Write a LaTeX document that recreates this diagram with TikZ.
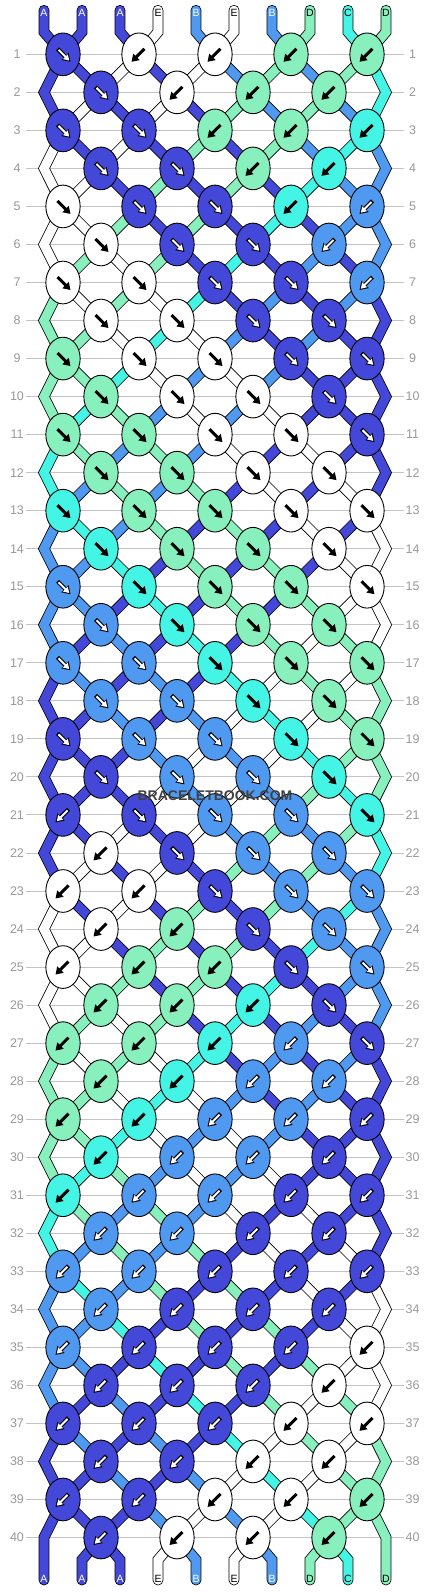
\documentclass[tikz,border=0pt]{standalone}
\usepackage{fontspec}
\setmainfont{Liberation Sans}
\usetikzlibrary{arrows.meta}
\usetikzlibrary{shapes.geometric}
\usetikzlibrary{backgrounds}

\definecolor{strA}{HTML}{4448D8}
\definecolor{strB}{HTML}{4F9AF0}
\definecolor{strC}{HTML}{44F5E5}
\definecolor{strD}{HTML}{88F0BC}
\definecolor{strE}{HTML}{FFFFFF}
\definecolor{numgray}{HTML}{999999}
\definecolor{rulegray}{HTML}{C4C4C4}

\begin{document}
\begin{tikzpicture}[x=1pt, y=-1pt,
knot/.style={ellipse, draw=black, line width=0.9pt, fill=str#1, minimum width=34.3pt, minimum height=42.7pt, inner sep=0pt},
band/.style={draw=black, line width=0.8pt, double=str#1, double distance=9.2pt, line cap=round, line join=miter},
darkout/.style={draw=black, line width=4.2pt, -{Triangle[length=7.8pt,width=9.8pt]}},
lightout/.style={draw=black, line width=3pt, -{Triangle[length=7pt,width=8.6pt]}},
darkin/.style={draw=white, line width=2pt, -{Triangle[length=5.6pt,width=6.4pt]}},
outA/.style={darkout}, outB/.style={darkout}, outC/.style={lightout}, outD/.style={lightout}, outE/.style={lightout},
inA/.style={darkin}, inB/.style={darkin}, inC/.style={}, inD/.style={}, inE/.style={},
strlabel/.style={font=\fontsize{10.5}{11}\selectfont, inner sep=0pt},
labA/.style={strlabel, text=white}, labB/.style={strlabel, text=white},
labC/.style={strlabel}, labD/.style={strlabel}, labE/.style={strlabel},
rownum/.style={font=\fontsize{12.5}{13}\selectfont, text=numgray, inner sep=0pt},
rowrule/.style={draw=rulegray, line width=0.9pt},
]
\useasboundingbox (0,0) rectangle (430,1592);

% string letters, top and bottom
\foreach \q/\col in {1/A,2/A,3/A,4/E,5/B,6/E,7/B,8/D,9/C,10/D}{
  \node[lab\col] (top\q) at (6+38*\q, 12.7) {\col};
  \node[lab\col] (bot\q) at (6+38*\q, 1579.3) {\col};
  \coordinate (t\q) at (6+38*\q, 10.3);
  \coordinate (u\q) at (6+38*\q, 32);
  \coordinate (v\q) at (6+38*\q, 1559.8);
  \coordinate (b\q) at (6+38*\q, 1580);
}

% row numbers
\foreach \rw in {1,...,40}{
  \node[rownum] (nl\rw) at (17, 16.3+38.03*\rw) {\rw};
  \node[rownum] (nr\rw) at (412.5, 16.3+38.03*\rw) {\rw};
}

% knots: colour / direction (1 = forward, -1 = backward)
\foreach \rw/\knots in {
  1/{A/1,E/-1,E/-1,D/-1,D/-1}, 2/{A/1,E/-1,D/-1,D/-1},
  3/{A/1,A/1,D/-1,D/-1,C/-1}, 4/{A/1,A/1,D/-1,C/-1},
  5/{E/1,A/1,A/1,C/-1,B/-1}, 6/{E/1,A/1,A/1,B/-1},
  7/{E/1,E/1,A/1,A/1,B/-1}, 8/{E/1,E/1,A/1,A/1},
  9/{D/1,E/1,E/1,A/1,A/1}, 10/{D/1,E/1,E/1,A/1},
  11/{D/1,D/1,E/1,E/1,A/1}, 12/{D/1,D/1,E/1,E/1},
  13/{C/1,D/1,D/1,E/1,E/1}, 14/{C/1,D/1,D/1,E/1},
  15/{B/1,C/1,D/1,D/1,E/1}, 16/{B/1,C/1,D/1,D/1},
  17/{B/1,B/1,C/1,D/1,D/1}, 18/{B/1,B/1,C/1,D/1},
  19/{A/1,B/1,B/1,C/1,D/1}, 20/{A/1,B/1,B/1,C/1},
  21/{A/-1,A/1,B/1,B/1,C/1}, 22/{E/-1,A/1,B/1,B/1},
  23/{E/-1,E/-1,A/1,B/1,B/1}, 24/{E/-1,D/-1,A/1,B/1},
  25/{E/-1,D/-1,D/-1,A/1,B/1}, 26/{D/-1,D/-1,C/-1,A/1},
  27/{D/-1,D/-1,C/-1,B/-1,A/1}, 28/{D/-1,C/-1,B/-1,B/-1},
  29/{D/-1,C/-1,B/-1,B/-1,A/-1}, 30/{C/-1,B/-1,B/-1,A/-1},
  31/{C/-1,B/-1,B/-1,A/-1,A/-1}, 32/{B/-1,B/-1,A/-1,A/-1},
  33/{B/-1,B/-1,A/-1,A/-1,A/-1}, 34/{B/-1,A/-1,A/-1,A/-1},
  35/{B/-1,A/-1,A/-1,A/-1,E/-1}, 36/{A/-1,A/-1,A/-1,E/-1},
  37/{A/-1,A/-1,A/-1,E/-1,E/-1}, 38/{A/-1,A/-1,E/-1,E/-1},
  39/{A/-1,A/-1,E/-1,E/-1,D/-1}, 40/{A/-1,E/-1,E/-1,D/-1}}{
  \foreach \col/\dir [count=\i] in \knots{
    \pgfmathtruncatemacro\kc{2*\i-1+mod(\rw+1,2)}
    \node[knot=\col] (k\rw-\kc) at (25+38*\kc, 16.3+38.03*\rw) {};
    \draw[out\col] ([shift={({-5.5*(\dir)},-5.5)}]k\rw-\kc.center) -- ([shift={({7.5*(\dir)},7.5)}]k\rw-\kc.center);
    \path[in\col] ([shift={({-4.5*(\dir)},-4.5)}]k\rw-\kc.center) -- ([shift={({6.3*(\dir)},6.3)}]k\rw-\kc.center);
  }
}
\foreach \rw in {2,4,...,40}{
  \coordinate (k\rw-0) at (44, 16.3+38.03*\rw);
  \coordinate (k\rw-10) at (386, 16.3+38.03*\rw);
}

\node[font=\bfseries\fontsize{14}{15}\selectfont, text=black!75] (mark) at (215, 796) {BRACELETBOOK.COM};

\begin{pgfonlayer}{background}
\fill[white] (0,0) rectangle (430,1592);
\foreach \rw in {1,...,40}
  \draw[rowrule] (26, 16.3+38.03*\rw) -- (404.3, 16.3+38.03*\rw);

% loose ends
\foreach \q/\col in {1/A,2/A,3/A,4/E,5/B,6/E,7/B,8/D,9/C,10/D}{
  \pgfmathtruncatemacro\kc{\q-mod(\q+1,2)}
  \draw[band=\col] (t\q) -- (u\q) -- (k1-\kc.center);
}
\foreach \q/\col in {2/A,3/A,4/E,5/B,6/E,7/B,8/D,9/C}{
  \pgfmathtruncatemacro\kc{\q-mod(\q,2)}
  \draw[band=\col] (k40-\kc.center) -- (v\q) -- (b\q);
}

% strings passing the edges
\foreach \rw/\lc/\rc in {2/A/C,4/E/B,6/E/B,8/D/A,10/D/A,12/C/A,14/B/E,16/B/E,18/A/D,20/A/D,
  22/A/C,24/E/B,26/E/B,28/D/A,30/D/A,32/C/A,34/B/E,36/B/E,38/A/D}{
  \pgfmathtruncatemacro\rp{\rw-1}
  \pgfmathtruncatemacro\rn{\rw+1}
  \draw[band=\lc] (k\rp-1.center) -- (k\rw-0) -- (k\rn-1.center);
  \draw[band=\rc] (k\rp-9.center) -- (k\rw-10) -- (k\rn-9.center);
}
\draw[band=A] (k39-1.center) -- (k40-0) -- (b1);
\draw[band=D] (k39-9.center) -- (k40-10) -- (b10);

% strings between knots, order after each row (repeats every 20 rows)
\foreach \s/\seq in {
  0/{A,A,A,E,B,E,B,D,C,D}, 1/{A,A,E,A,E,B,D,B,D,C},
  2/{A,E,A,E,A,D,B,D,B,C}, 3/{E,A,E,A,D,A,D,B,C,B},
  4/{E,E,A,D,A,D,A,C,B,B}, 5/{E,E,D,A,D,A,C,A,B,B},
  6/{E,D,E,D,A,C,A,B,A,B}, 7/{D,E,D,E,C,A,B,A,B,A},
  8/{D,D,E,C,E,B,A,B,A,A}, 9/{D,D,C,E,B,E,B,A,A,A},
  10/{D,C,D,B,E,B,E,A,A,A}, 11/{C,D,B,D,B,E,A,E,A,A},
  12/{C,B,D,B,D,A,E,A,E,A}, 13/{B,C,B,D,A,D,A,E,A,E},
  14/{B,B,C,A,D,A,D,A,E,E}, 15/{B,B,A,C,A,D,A,D,E,E},
  16/{B,A,B,A,C,A,D,E,D,E}, 17/{A,B,A,B,A,C,E,D,E,D},
  18/{A,A,B,A,B,E,C,E,D,D}, 19/{A,A,A,B,E,B,E,C,D,D}}{
  \foreach \h in {0,20}{
    \pgfmathtruncatemacro\rw{\s+\h}
    \pgfmathtruncatemacro\rn{\rw+1}
    \ifnum\rw>0
    \foreach \col [count=\q] in \seq{
      \ifnum\q>1 \ifnum\q<10
        \pgfmathtruncatemacro\ca{\q-mod(\q+\rw,2)}
        \pgfmathtruncatemacro\cb{\q-mod(\q+\rn,2)}
        \draw[band=\col] (k\rw-\ca.center) -- (k\rn-\cb.center);
      \fi\fi
    }
    \fi
  }
}
\end{pgfonlayer}
\end{tikzpicture}
\end{document}
